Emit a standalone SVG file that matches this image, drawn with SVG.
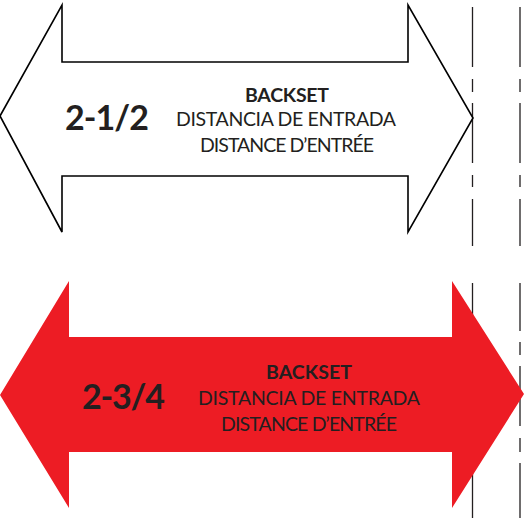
<svg xmlns="http://www.w3.org/2000/svg" width="526" height="518" viewBox="0 0 526 518">
<style>
.big{font-family:Lato,"Open Sans",sans-serif;font-weight:bold;font-size:34px;fill:#231F20}
.hd{font-family:Lato,"Open Sans",sans-serif;font-weight:bold;font-size:19.5px;fill:#231F20;text-anchor:middle}
.tx{font-family:Lato,"Open Sans",sans-serif;font-size:19.5px;fill:#231F20;text-anchor:middle}
.guide{fill:none;stroke:#231F20;stroke-width:1.3}
</style>
<rect width="526" height="518" fill="#fff"/>
<g id="connectors">
<path class="guide" d="M472.5 7V67M472.5 79V92M472.5 103V163M472.5 175V187M472.5 199V246"/>
<path class="guide" d="M520 7V67M520 79V92M520 103V163M520 175V187M520 199V246"/>
<path class="guide" d="M472.5 283V518"/>
<path class="guide" d="M520 283V331M520 342V355M520 366V426M520 438V452M520 463V518"/>
</g>
<g id="arrow-top">
<polygon points="0,116 62,5 62,62 408,62 408,5 473,118 408,232 408,176 62,176 62,232" fill="#fff" stroke="#000" stroke-width="1.6" stroke-linejoin="miter"/>
<text class="big" x="65" y="130" textLength="84" lengthAdjust="spacing">2-1/2</text>
<text class="hd" x="287" y="102" textLength="84" lengthAdjust="spacing">BACKSET</text>
<text class="tx" x="286" y="126" textLength="220" lengthAdjust="spacing">DISTANCIA DE ENTRADA</text>
<text class="tx" x="287" y="152" textLength="174" lengthAdjust="spacing">DISTANCE D’ENTRÉE</text>
</g>
<g id="arrow-bottom">
<polygon points="0,395 69,281 69,337 452,337 452,281 524,394 452,508 452,452 69,452 69,508" fill="#ED1C24"/>
<text class="big" x="82" y="409" textLength="83" lengthAdjust="spacing">2-3/4</text>
<text class="hd" x="309" y="379" textLength="86" lengthAdjust="spacing">BACKSET</text>
<text class="tx" x="309" y="405" textLength="222" lengthAdjust="spacing">DISTANCIA DE ENTRADA</text>
<text class="tx" x="309" y="431" textLength="176" lengthAdjust="spacing">DISTANCE D’ENTRÉE</text>
</g>
</svg>
